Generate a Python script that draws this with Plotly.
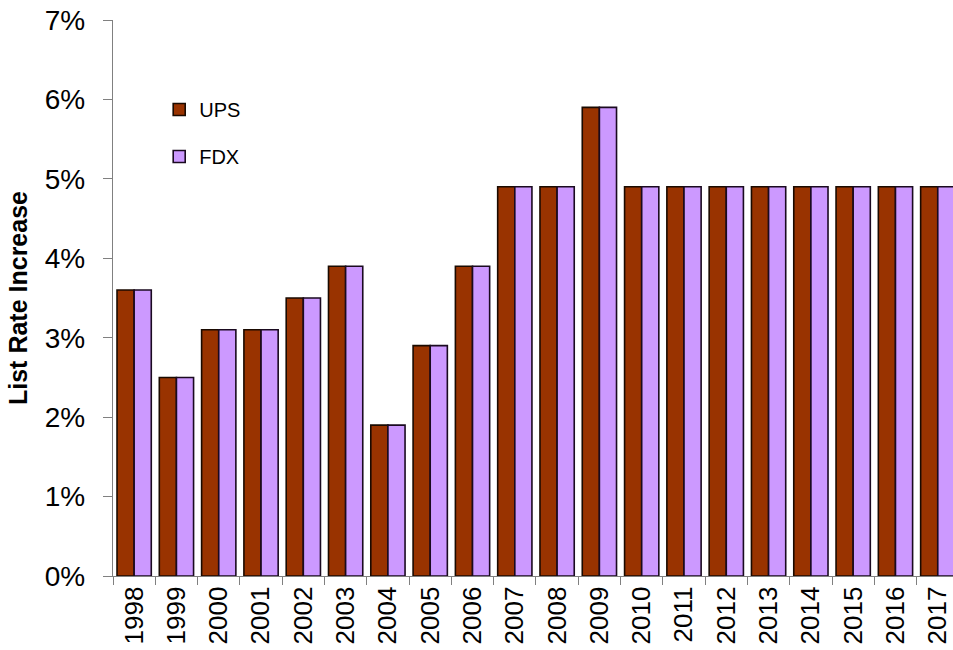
import plotly.graph_objects as go

years = [str(y) for y in range(1998, 2018)]
ups = [3.6, 2.5, 3.1, 3.1, 3.5, 3.9, 1.9, 2.9, 3.9, 4.9, 4.9, 5.9, 4.9, 4.9, 4.9, 4.9, 4.9, 4.9, 4.9, 4.9]
fdx = [3.6, 2.5, 3.1, 3.1, 3.5, 3.9, 1.9, 2.9, 3.9, 4.9, 4.9, 5.9, 4.9, 4.9, 4.9, 4.9, 4.9, 4.9, 4.9, 4.9]
y_ticks = [0, 1, 2, 3, 4, 5, 6, 7]

FONT = "Liberation Sans, Arial, sans-serif"

fig = go.Figure()
fig.add_trace(go.Bar(x=years, y=ups, name="UPS", legendgroup="a",
                     marker=dict(color="#993300", line=dict(color="#1a0a00", width=1.6))))
fig.add_trace(go.Bar(x=years, y=fdx, name="FDX", legendgroup="b",
                     marker=dict(color="#CC99FF", line=dict(color="#1a0a20", width=1.6))))

fig.update_layout(
    width=953, height=650,
    margin=dict(l=113, r=0, t=20, b=74),
    paper_bgcolor="white", plot_bgcolor="white",
    barmode="group", bargap=0.19, bargroupgap=0,
    font=dict(family=FONT, color="black"),
    showlegend=True,
    legend=dict(x=0.055, y=0.874, xanchor="left", yanchor="top",
                font=dict(size=20, family=FONT), traceorder="grouped",
                tracegroupgap=18, bgcolor="rgba(0,0,0,0)"),
)
fig.update_xaxes(
    type="category", range=[-0.5, 19.36], automargin=False,
    showline=True, linecolor="#808080", linewidth=1.3,
    ticks="outside", tickson="boundaries", ticklen=8, tickcolor="#808080",
    tickangle=-90, tickfont=dict(size=26, family=FONT), ticklabelstandoff=-1,
    showgrid=False, zeroline=False,
)
fig.update_yaxes(
    range=[0, 7], tickvals=y_ticks, ticktext=[f"{v}%" for v in y_ticks], automargin=False,
    showline=True, linecolor="#808080", linewidth=1.3,
    ticks="outside", ticklen=9, tickcolor="#808080",
    tickfont=dict(size=28, family=FONT), ticklabelstandoff=12,
    showgrid=False, zeroline=False,
    title=dict(text="<b>List Rate Increase</b>", font=dict(size=25, family=FONT), standoff=10),
)

fig.write_html("out.html", config={"displayModeBar": False},
               post_script="document.body.style.margin='0';document.body.style.overflow='hidden';")
